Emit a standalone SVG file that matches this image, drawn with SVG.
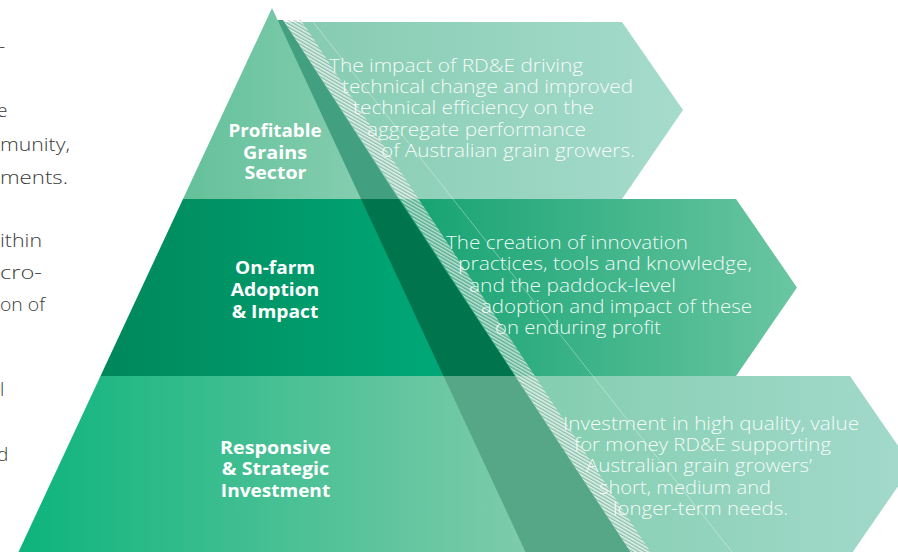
<svg xmlns="http://www.w3.org/2000/svg" width="898" height="552" viewBox="0 0 898 552">
<style>
.lbl{font-family:"Open Sans","Liberation Sans",sans-serif;font-weight:700;font-size:18.5px;fill:#ffffff;text-anchor:middle}
.txt{font-family:"Open Sans","Liberation Sans",sans-serif;font-weight:300;font-size:17.5px;fill:#ffffff;fill-opacity:0.93}
.body{font-family:"Open Sans","Liberation Sans",sans-serif;font-weight:300;font-size:19px;fill:#3a3a3a}
</style>
<defs>
<linearGradient id="gc1" gradientUnits="userSpaceOnUse" x1="280" y1="0" x2="683" y2="0"><stop offset="0" stop-color="#84cbb0"/><stop offset="1" stop-color="#a6dbcc"/></linearGradient>
<linearGradient id="gc2" gradientUnits="userSpaceOnUse" x1="360" y1="0" x2="797" y2="0"><stop offset="0" stop-color="#0b9e6c"/><stop offset="1" stop-color="#6ac6a2"/></linearGradient>
<linearGradient id="gc3" gradientUnits="userSpaceOnUse" x1="440" y1="0" x2="898" y2="0"><stop offset="0" stop-color="#7ccbaa"/><stop offset="1" stop-color="#a2d9ca"/></linearGradient>
<linearGradient id="gt1" gradientUnits="userSpaceOnUse" x1="183" y1="0" x2="361" y2="0"><stop offset="0" stop-color="#64c19a"/><stop offset="1" stop-color="#84cdb0"/></linearGradient>
<linearGradient id="gt2" gradientUnits="userSpaceOnUse" x1="100" y1="0" x2="443" y2="0"><stop offset="0" stop-color="#00875a"/><stop offset="1" stop-color="#00a877"/></linearGradient>
<linearGradient id="gt3" gradientUnits="userSpaceOnUse" x1="18" y1="0" x2="525" y2="0"><stop offset="0" stop-color="#0db47c"/><stop offset="1" stop-color="#7ecbab"/></linearGradient>
<pattern id="hatch" width="3" height="3" patternUnits="userSpaceOnUse" patternTransform="rotate(30)">
<rect width="3" height="3" fill="#ffffff" fill-opacity="0.35"/>
<rect width="3" height="1.2" fill="#ffffff" fill-opacity="0.55"/>
<rect y="2" width="3" height="0.8" fill="#4a6a5a" fill-opacity="0.4"/>
</pattern>
</defs>

<g id="body-text">
<text class="body" x="-1" y="53">-</text>
<text class="body" x="-3" y="117">e</text>
<text class="body" x="0" y="151" textLength="70" lengthAdjust="spacingAndGlyphs">munity,</text>
<text class="body" x="0" y="184" textLength="68" lengthAdjust="spacingAndGlyphs">ments.</text>
<text class="body" x="0" y="247" textLength="42" lengthAdjust="spacingAndGlyphs">ithin</text>
<text class="body" x="0" y="279" textLength="42" lengthAdjust="spacingAndGlyphs">cro-</text>
<text class="body" x="0" y="311" textLength="45" lengthAdjust="spacingAndGlyphs">on of</text>
<text class="body" x="0" y="396">l</text>
<text class="body" x="-3" y="461">d</text>
</g>

<g id="chevron-1">
<polygon points="270,22 622,22 683,110 622,199 270,199" fill="url(#gc1)"/>
</g>
<g id="chevron-2">
<polygon points="200,199 736,199 797,287.5 736,376 200,376" fill="url(#gc2)"/>
</g>
<g id="chevron-3">
<polygon points="120,376 850,376 912,466 850,556 120,556" fill="url(#gc3)"/>
</g>

<g id="tier-1">
<polygon points="272,8 361,199 183,199" fill="url(#gt1)"/>
</g>
<g id="tier-2">
<polygon points="183,199 361,199 443.5,376 100.5,376" fill="url(#gt2)"/>
</g>
<g id="tier-3">
<polygon points="100.5,376 443.5,376 525.5,552 18.5,552" fill="url(#gt3)"/>
</g>

<g id="side-face">
<polygon points="277.6,20 283,20 398.6,199 361,199" fill="#42a081"/>
<polygon points="361,199 398.6,199 514.9,376 443.5,376" fill="#00754d"/>
<polygon points="443.5,376 514.9,376 630.5,552 525.5,552" fill="#55a787"/>
<polygon points="283,20 301,20 650.5,552 630.5,552" fill="url(#hatch)"/>
<line x1="313" y1="22" x2="732" y2="552" stroke="#ffffff" stroke-opacity="0.45" stroke-width="0.8"/>
</g>

<g id="connectors"></g>

<g id="labels">
<text class="lbl" x="275" y="137" textLength="93" lengthAdjust="spacingAndGlyphs">Profitable</text>
<text class="lbl" x="275" y="158.5" textLength="64" lengthAdjust="spacingAndGlyphs">Grains</text>
<text class="lbl" x="275.5" y="178.5" textLength="62" lengthAdjust="spacingAndGlyphs">Sector</text>
<text class="lbl" x="275" y="273.5" textLength="80" lengthAdjust="spacingAndGlyphs">On-farm</text>
<text class="lbl" x="275" y="295.5" textLength="88.6" lengthAdjust="spacingAndGlyphs">Adoption</text>
<text class="lbl" x="275" y="317.5" textLength="86.6" lengthAdjust="spacingAndGlyphs">&amp; Impact</text>
<text class="lbl" x="275.5" y="453.5" textLength="111" lengthAdjust="spacingAndGlyphs">Responsive</text>
<text class="lbl" x="275.5" y="475" textLength="107.3" lengthAdjust="spacingAndGlyphs">&amp; Strategic</text>
<text class="lbl" x="275.5" y="497" textLength="109.3" lengthAdjust="spacingAndGlyphs">Investment</text>
</g>

<g id="chevron-text">
<text class="txt" x="329" y="72" textLength="254" lengthAdjust="spacingAndGlyphs">The impact of RD&amp;E driving</text>
<text class="txt" x="342" y="93" textLength="291" lengthAdjust="spacingAndGlyphs">technical change and improved</text>
<text class="txt" x="353" y="114" textLength="241" lengthAdjust="spacingAndGlyphs">technical efficiency on the</text>
<text class="txt" x="367" y="135.5" textLength="219" lengthAdjust="spacingAndGlyphs">aggregate performance</text>
<text class="txt" x="381" y="157" textLength="254" lengthAdjust="spacingAndGlyphs">of Australian grain growers.</text>
<text class="txt" x="446" y="248.5" textLength="242" lengthAdjust="spacingAndGlyphs">The creation of innovation</text>
<text class="txt" x="458" y="270" textLength="294" lengthAdjust="spacingAndGlyphs">practices, tools and knowledge,</text>
<text class="txt" x="469" y="291.5" textLength="207" lengthAdjust="spacingAndGlyphs">and the paddock-level</text>
<text class="txt" x="481" y="313" textLength="271" lengthAdjust="spacingAndGlyphs">adoption and impact of these</text>
<text class="txt" x="495" y="334" textLength="166" lengthAdjust="spacingAndGlyphs">on enduring profit</text>
<text class="txt" x="563" y="429.5" textLength="296" lengthAdjust="spacingAndGlyphs">Investment in high quality, value</text>
<text class="txt" x="574" y="451" textLength="257" lengthAdjust="spacingAndGlyphs">for money RD&amp;E supporting</text>
<text class="txt" x="586" y="472" textLength="226" lengthAdjust="spacingAndGlyphs">Australian grain growers’</text>
<text class="txt" x="599" y="493.5" textLength="172" lengthAdjust="spacingAndGlyphs">short, medium and</text>
<text class="txt" x="613" y="515" textLength="175" lengthAdjust="spacingAndGlyphs">longer-term needs.</text>
</g>
</svg>
